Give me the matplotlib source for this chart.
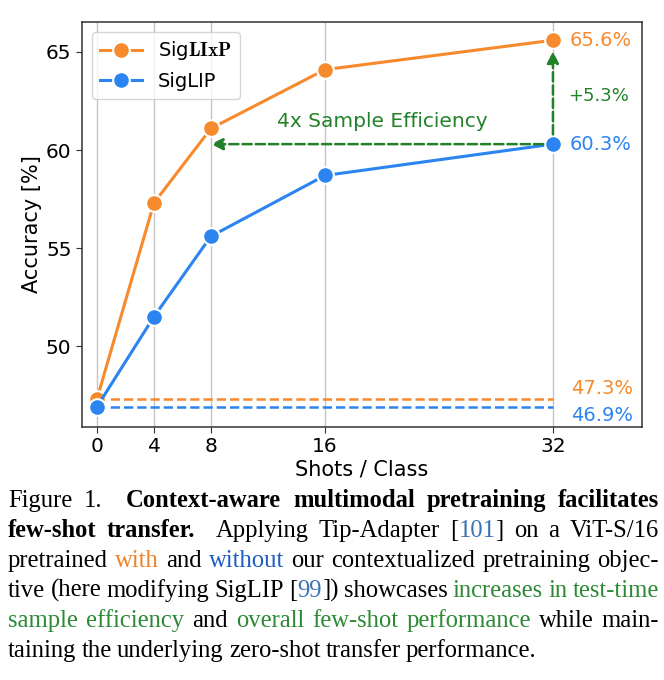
import matplotlib
matplotlib.use("Agg")
import matplotlib.pyplot as plt

# Data
shots = [0, 4, 8, 16, 32]
siglixp_acc = [47.3, 57.3, 61.1, 64.1, 65.6]
siglip_acc = [46.9, 51.5, 55.6, 58.7, 60.3]
yticks = [50, 55, 60, 65]

ORANGE = "#f68a2c"
BLUE = "#2b84f0"
GREEN = "#22822a"

plt.rcParams["mathtext.fontset"] = "cm"
plt.rcParams["font.family"] = "DejaVu Sans"

fig = plt.figure(figsize=(6.64, 6.80), dpi=100)
ax = fig.add_axes([82 / 664, (680 - 427) / 680, (642 - 82) / 664, (427 - 22) / 680])

# zero-shot baselines
ax.plot([shots[0], shots[-1]], [siglixp_acc[0]] * 2, ls="--", color=ORANGE, lw=1.8, zorder=2)
ax.plot([shots[0], shots[-1]], [siglip_acc[0]] * 2, ls="--", color=BLUE, lw=1.8, zorder=2)

ax.plot(shots, siglixp_acc, "-o", color=ORANGE, lw=2.2, ms=12, mec="white", mew=1.5,
        label=r"Sig$\mathbf{LIxP}$", zorder=3)
ax.plot(shots, siglip_acc, "-o", color=BLUE, lw=2.2, ms=12, mec="white", mew=1.5,
        label="SigLIP", zorder=4)

# sample efficiency arrow
ax.annotate("", xy=(shots[2], siglip_acc[-1]), xytext=(shots[-1], siglip_acc[-1]),
            arrowprops=dict(arrowstyle="-|>,head_length=0.7,head_width=0.35", color=GREEN,
                            lw=1.8, ls="--", shrinkA=7, shrinkB=0), zorder=5)
ax.text(20, 61.45, "4x Sample Efficiency", color=GREEN, fontsize=14.5, ha="center", va="center")

# gain arrow
ax.annotate("", xy=(shots[-1], siglixp_acc[-1]), xytext=(shots[-1], siglip_acc[-1]),
            arrowprops=dict(arrowstyle="-|>,head_length=0.7,head_width=0.35", color=GREEN,
                            lw=1.8, ls="--", shrinkA=7, shrinkB=8), zorder=5)
gain = siglixp_acc[-1] - siglip_acc[-1]
ax.text(33.1, 62.75, f"+{gain:.1f}%", color=GREEN, fontsize=13, ha="left", va="center")

ax.text(33.2, siglixp_acc[-1], f"{siglixp_acc[-1]:.1f}%", color=ORANGE, fontsize=14, ha="left", va="center")
ax.text(33.2, siglip_acc[-1], f"{siglip_acc[-1]:.1f}%", color=BLUE, fontsize=14, ha="left", va="center")
ax.text(37.6, siglixp_acc[0] + 0.05, f"{siglixp_acc[0]:.1f}%", color=ORANGE, fontsize=14, ha="right", va="bottom")
ax.text(37.6, siglip_acc[0] + 0.05, f"{siglip_acc[0]:.1f}%", color=BLUE, fontsize=14, ha="right", va="top")

ax.set_xlim(-1.05, 38.25)
ax.set_ylim(45.87, 66.53)
ax.set_xticks(shots)
ax.set_yticks(yticks)
ax.tick_params(labelsize=14.5, length=4, color="#333333")
ax.grid(axis="x", color="#c4c4c4", lw=1)
ax.set_axisbelow(True)
for s in ax.spines.values():
    s.set_color("#333333")
    s.set_linewidth(1.1)
ax.set_xlabel("Shots / Class", fontsize=15, labelpad=2)
ax.set_ylabel("Accuracy [%]", fontsize=15, labelpad=3)
leg = ax.legend(loc="upper left", fontsize=14, borderaxespad=0.5, handlelength=2.2)

# Caption, justified word by word
K = "black"
B_REF = "#3b74b6"
B_W = "#1d5cc2"
O_W = "#f08328"
G_W = "#2c8a36"
caption = [
    [[("Figure", K, 0)], [("1.", K, 0)], None, [("Context-aware", K, 1)], [("multimodal", K, 1)],
     [("pretraining", K, 1)], [("facilitates", K, 1)]],
    [[("few-shot", K, 1)], [("transfer.", K, 1)], None, [("Applying", K, 0)], [("Tip-Adapter", K, 0)],
     [("[", K, 0), ("101", B_REF, 0), ("]", K, 0)], [("on", K, 0)], [("a", K, 0)], [("ViT-S/16", K, 0)]],
    [[("pretrained", K, 0)], [("with", O_W, 0)], [("and", K, 0)], [("without", B_W, 0)], [("our", K, 0)],
     [("contextualized", K, 0)], [("pretraining", K, 0)], [("objec-", K, 0)]],
    [[("tive", K, 0)], [("(here", K, 0)], [("modifying", K, 0)], [("SigLIP", K, 0)],
     [("[", K, 0), ("99", B_REF, 0), ("])", K, 0)], [("showcases", K, 0)], [("increases", G_W, 0)],
     [("in", G_W, 0)], [("test-time", G_W, 0)]],
    [[("sample", G_W, 0)], [("efficiency", G_W, 0)], [("and", K, 0)], [("overall", G_W, 0)],
     [("few-shot", G_W, 0)], [("performance", G_W, 0)], [("while", K, 0)], [("main-", K, 0)]],
    [[("taining", K, 0)], [("the", K, 0)], [("underlying", K, 0)], [("zero-shot", K, 0)],
     [("transfer", K, 0)], [("performance.", K, 0)]],
]
baselines = [507, 537, 567, 597, 627, 657]
x_left, x_right = 8, 659
cap_size = 17.7
renderer = fig.canvas.get_renderer()

for li, (line, base) in enumerate(zip(caption, baselines)):
    y = 1 - base / 680
    words = []
    weights = []
    extra = 1.0
    for w in line:
        if w is None:
            extra = 2.0
            continue
        if words:
            weights.append(extra)
        extra = 1.0
        pieces = []
        width = 0
        for txt, col, bold in w:
            t = fig.text(0, y, txt, color=col, fontsize=cap_size, family="Liberation Serif",
                         fontweight="bold" if bold else "normal", ha="left", va="baseline")
            pw = t.get_window_extent(renderer).width
            pieces.append((t, pw))
            width += pw
        words.append((pieces, width))
    total = sum(wd for _, wd in words)
    if li == len(caption) - 1:
        unit = 5.2
    else:
        unit = (x_right - x_left - total) / sum(weights)
    x = x_left
    for i, (pieces, wd) in enumerate(words):
        px = x
        for t, pw in pieces:
            t.set_x(px / 664)
            px += pw
        x += wd
        if i < len(weights):
            x += unit * weights[i]

fig.savefig("out.png", dpi=100)
